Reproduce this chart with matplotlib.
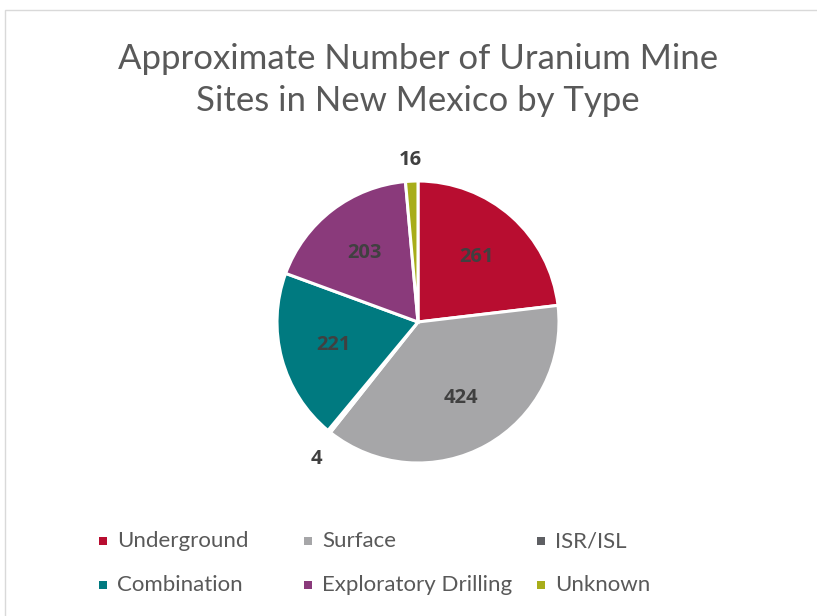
import matplotlib
matplotlib.use("Agg")
import matplotlib.pyplot as plt
from matplotlib.patches import Rectangle
import numpy as np

categories = ["Underground", "Surface", "ISR/ISL", "Combination", "Exploratory Drilling", "Unknown"]
values = [261, 424, 4, 221, 203, 16]
colors = ["#B80D30", "#A6A6A8", "#5E5F63", "#007A80", "#8A3A7B", "#A8AD1A"]
title = "Approximate Number of Uranium Mine\nSites in New Mexico by Type"

W, H = 817, 616
fig = plt.figure(figsize=(W / 100, H / 100), dpi=100)
fig.patch.set_facecolor("white")

# chart area border
fig.patches.append(Rectangle((5 / W, -0.1), 1.2, 1 - 10 / H + 0.1, transform=fig.transFigure,
                             fill=False, edgecolor="#D9D9D9", linewidth=1.0))

cx, cy, R, k = 418, 322, 141, 1.35
aw, ah = 2 * R * k / W, 2 * R * k / H
ax = fig.add_axes([cx / W - aw / 2, 1 - cy / H - ah / 2, aw, ah])

wedges, texts = ax.pie(values, colors=colors, startangle=90, counterclock=False,
                       radius=1.0, labels=None,
                       wedgeprops=dict(edgecolor="white", linewidth=2.2))
ax.set_xlim(-k, k)
ax.set_ylim(-k, k)
ax.set_aspect("equal")
ax.axis("off")

total = sum(values)
ang = 90.0
for v, w in zip(values, wedges):
    frac = v / total
    mid = ang - frac * 180
    ang -= frac * 360
    if frac > 0.05:
        d = 0.62
    else:
        d = 1.15
    x, y = d * np.cos(np.radians(mid)), d * np.sin(np.radians(mid))
    if v == 4:
        x, y = -0.72, -0.97
    ax.text(x, y, str(v), ha="center", va="center", fontsize=14.5, fontweight="bold",
            color="#404040", family="Open Sans")

fig.text(cx / W, 1 - 80 / H, title, ha="center", va="center", fontsize=25,
         color="#595959", family="Lato", linespacing=1.4)

# legend
leg_pos = [(103, 541), (308, 541), (541, 541), (103, 585), (308, 585), (541, 585)]
for (lx, ly), lab, col in zip(leg_pos, categories, colors):
    s = 8
    fig.patches.append(Rectangle(((lx - s / 2) / W, 1 - (ly + s / 2) / H), s / W, s / H,
                                 transform=fig.transFigure, facecolor=col, edgecolor="none"))
    fig.text((lx + 14) / W, 1 - ly / H, lab, ha="left", va="center", fontsize=16,
             color="#595959", family="Lato")

fig.savefig("out.png", dpi=100)
